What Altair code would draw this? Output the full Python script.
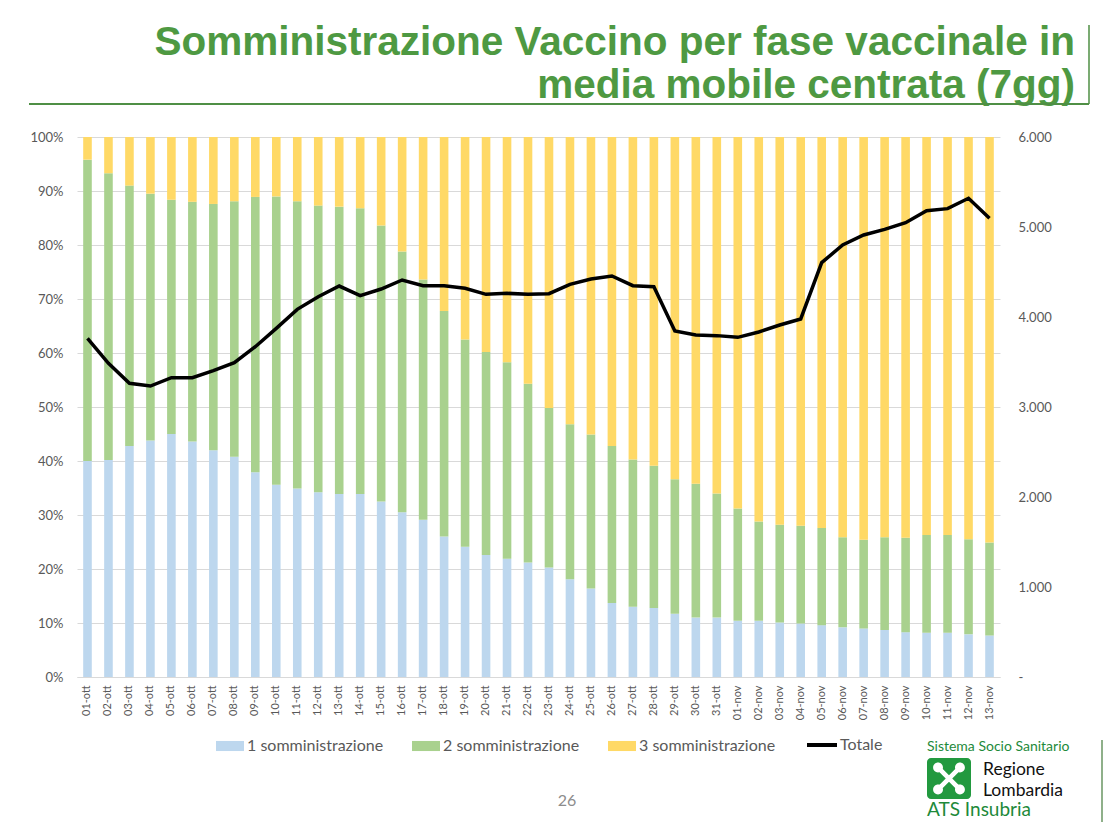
import altair as alt
import pandas as pd

dates = ["01-ott", "02-ott", "03-ott", "04-ott", "05-ott", "06-ott", "07-ott", "08-ott", "09-ott", "10-ott",
         "11-ott", "12-ott", "13-ott", "14-ott", "15-ott", "16-ott", "17-ott", "18-ott", "19-ott", "20-ott",
         "21-ott", "22-ott", "23-ott", "24-ott", "25-ott", "26-ott", "27-ott", "28-ott", "29-ott", "30-ott",
         "31-ott", "01-nov", "02-nov", "03-nov", "04-nov", "05-nov", "06-nov", "07-nov", "08-nov", "09-nov",
         "10-nov", "11-nov", "12-nov", "13-nov"]

# percent shares
p1 = [40.0, 40.2, 42.8, 43.8, 45.0, 43.6, 42.0, 40.8, 37.9, 35.6,
      34.9, 34.2, 33.9, 33.9, 32.5, 30.5, 29.1, 26.0, 24.1, 22.6,
      21.9, 21.2, 20.3, 18.1, 16.4, 13.7, 13.0, 12.8, 11.7, 11.0,
      11.0, 10.4, 10.4, 10.1, 9.9, 9.6, 9.2, 9.0, 8.7, 8.3,
      8.2, 8.2, 7.9, 7.7]
p2 = [55.8, 53.1, 48.2, 45.7, 43.4, 44.4, 45.6, 47.3, 51.0, 53.4,
      53.2, 53.1, 53.2, 52.9, 51.1, 48.3, 44.5, 41.8, 38.4, 37.6,
      36.4, 33.1, 29.5, 28.7, 28.5, 29.1, 27.3, 26.3, 24.9, 24.8,
      23.0, 20.8, 18.4, 18.1, 18.1, 18.0, 16.7, 16.4, 17.2, 17.5,
      18.1, 18.1, 17.6, 17.2]
p3 = [4.2, 6.7, 9.0, 10.5, 11.6, 12.0, 12.4, 11.9, 11.1, 11.0,
      11.9, 12.7, 12.9, 13.2, 16.4, 21.2, 26.4, 32.2, 37.5, 39.8,
      41.7, 45.7, 50.2, 53.2, 55.1, 57.2, 59.7, 60.9, 63.4, 64.2,
      66.0, 68.8, 71.2, 71.8, 72.0, 72.4, 74.1, 74.6, 74.1, 74.2,
      73.7, 73.7, 74.5, 75.1]
totale = [3763, 3485, 3263, 3233, 3326, 3326, 3404, 3493, 3670, 3874,
          4085, 4226, 4344, 4237, 4311, 4411, 4348, 4348, 4319, 4252,
          4263, 4252, 4259, 4363, 4422, 4456, 4348, 4337, 3844, 3800,
          3793, 3774, 3833, 3911, 3978, 4604, 4800, 4911, 4974, 5048,
          5181, 5204, 5319, 5096]

series = ["1 somministrazione", "2 somministrazione", "3 somministrazione"]
colors = ["#BDD7EE", "#A9D18E", "#FFD966"]
pct_ticks = [0, 0.1, 0.2, 0.3, 0.4, 0.5, 0.6, 0.7, 0.8, 0.9, 1.0]
tot_ticks = [0, 1000, 2000, 3000, 4000, 5000, 6000]

title1 = "Somministrazione Vaccino per fase vaccinale in"
title2 = "media mobile centrata (7gg)"

rows = []
for i, d in enumerate(dates):
    for k, (s, vals) in enumerate(zip(series, [p1, p2, p3])):
        rows.append({"data": d, "serie": s, "ord": k, "val": vals[i]})
bars_df = pd.DataFrame(rows)
line_df = pd.DataFrame({"data": dates, "tot": totale, "serie": ["Totale"] * len(dates)})

GRAY = "#595959"
FONT = "Lato"

xenc = alt.X("data:N", sort=dates,
             scale=alt.Scale(paddingInner=0.59, paddingOuter=0.295),
             axis=alt.Axis(title=None, labelAngle=-90, labelFont=FONT, labelFontSize=11,
                           labelColor=GRAY, ticks=False, domainColor="#D9D9D9",
                           labelPadding=8, grid=False))

bars = alt.Chart(bars_df).mark_bar().encode(
    x=xenc,
    y=alt.Y("val:Q", stack="normalize", scale=alt.Scale(domain=[0, 1]),
            axis=alt.Axis(title=None, values=pct_ticks, format=".0%", grid=True,
                          gridColor="#D9D9D9", domain=False, ticks=False, labelFont=FONT,
                          labelFontSize=13, labelColor=GRAY, labelPadding=14)),
    color=alt.Color("serie:N", scale=alt.Scale(domain=series, range=colors),
                    legend=alt.Legend(title=None, orient="none", legendX=139, legendY=595,
                                      direction="horizontal",
                                      symbolType="M-1,-0.36H1V0.36H-1Z", symbolSize=784,
                                      symbolStrokeWidth=0, labelFont=FONT, labelFontSize=16,
                                      labelColor=GRAY, labelOffset=3, columnPadding=28,
                                      padding=0)),
    order=alt.Order("ord:Q"),
)

line = alt.Chart(line_df).mark_line(strokeWidth=3.5).encode(
    x=xenc,
    y=alt.Y("tot:Q", scale=alt.Scale(domain=[0, 6000]),
            axis=alt.Axis(orient="right", title=None, values=tot_ticks,
                          labelExpr="datum.value == 0 ? '-' : replace(format(datum.value, ','), ',', '.')",
                          grid=False, domain=False, ticks=False, labelFont=FONT,
                          labelFontSize=13, labelColor=GRAY, labelPadding=18)),
    stroke=alt.Stroke("serie:N", scale=alt.Scale(domain=["Totale"], range=["black"]),
                      legend=alt.Legend(title=None, orient="none", legendX=728, legendY=591,
                                        symbolType="stroke", symbolSize=900,
                                        symbolStrokeWidth=4, labelFont=FONT, labelFontSize=16,
                                        labelColor=GRAY, labelOffset=1, padding=0)),
)

one = pd.DataFrame({"a": [0]})


def text(txt, x, y, size, color, weight="normal", align="left", font=FONT):
    return alt.Chart(pd.DataFrame({"t": [txt]})).mark_text(
        align=align, baseline="alphabetic", font=font, fontSize=size,
        fontWeight=weight, color=color).encode(
        x=alt.value(x), y=alt.value(y), text="t:N")


def rule(x, x2, y, y2, color, w):
    return alt.Chart(one).mark_rule(color=color, strokeWidth=w).encode(
        x=alt.value(x), x2=alt.value(x2), y=alt.value(y), y2=alt.value(y2))


TG = "#4E9942"
deco = [
    text(title1, 998, -82, 40.5, TG, weight="bold", align="right", font="Liberation Sans"),
    text(title2, 998, -39, 40.5, TG, weight="bold", align="right", font="Liberation Sans"),
    rule(-48, 1012, -33, -33, "#4F8F45", 2),
    rule(1012, 1012, -112, -33, "#4F8F45", 1.5),
    text("26", 490, 669, 16, "#8C8C8C", align="center"),
    text("Sistema Socio Sanitario", 850, 614, 14, "#1E8A3A"),
    alt.Chart(one).mark_rect(cornerRadius=4, color="#22993F").encode(
        x=alt.value(850), x2=alt.value(894), y=alt.value(621), y2=alt.value(662)),
    alt.Chart(one).mark_point(
        shape="M0.184,0L0.692,0.508L0.508,0.692L0,0.184L-0.508,0.692L-0.692,0.508L-0.184,0"
              "L-0.692,-0.508L-0.508,-0.692L0,-0.184L0.508,-0.692L0.692,-0.508Z"
              "M0.90,0.62A0.28,0.28 0 1,1 0.34,0.62A0.28,0.28 0 1,1 0.90,0.62Z"
              "M-0.34,0.62A0.28,0.28 0 1,1 -0.90,0.62A0.28,0.28 0 1,1 -0.34,0.62Z"
              "M0.90,-0.62A0.28,0.28 0 1,1 0.34,-0.62A0.28,0.28 0 1,1 0.90,-0.62Z"
              "M-0.34,-0.62A0.28,0.28 0 1,1 -0.90,-0.62A0.28,0.28 0 1,1 -0.34,-0.62Z",
        filled=True, color="white", size=1250, opacity=1).encode(
        x=alt.value(872), y=alt.value(641.5)),
    text("Regione", 906, 638, 17.5, "#111111"),
    text("Lombardia", 906, 659, 17.5, "#111111"),
    text("ATS Insubria", 850, 679, 19, "#1E8A3A"),
    rule(1025, 1025, 603, 685, "#8FB08A", 2),
]

chart = alt.layer(bars, line, *deco).resolve_scale(
    y="independent", color="independent"
).properties(
    width=923, height=540,
    autosize=alt.AutoSizeParams(type="none"),
    padding={"left": 69, "top": 129, "right": 107, "bottom": 145},
).configure_view(stroke=None)

chart.save("out.html", embed_options={"renderer": "svg", "actions": False})
